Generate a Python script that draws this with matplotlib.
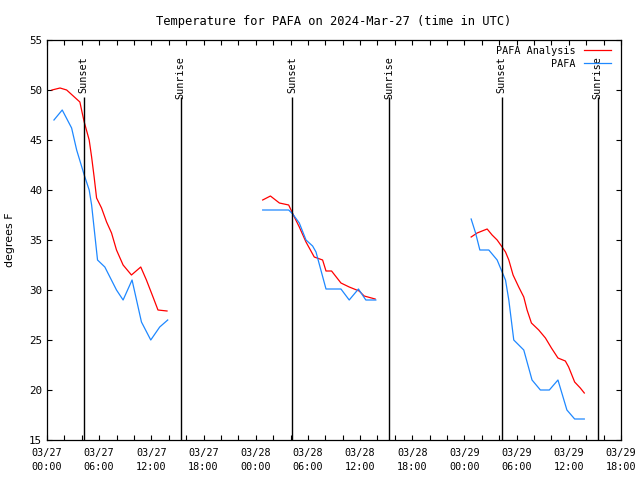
import pandas as pd
import matplotlib
matplotlib.use("Agg")
import matplotlib.pyplot as plt
import matplotlib.dates as mdates

plt.rcParams['font.family'] = ['DejaVu Sans Mono']
plt.rcParams['font.size'] = 7.3

base = pd.Timestamp("2024-03-27 00:00")

# hours since 03/27 00:00 UTC, one list per day segment
anl_hours = [
    [0.57, 1.5, 2.26, 3.78, 4.05, 4.28, 4.85, 5.13, 5.42, 5.7, 6.27, 6.85, 7.42,
     7.99, 8.75, 9.71, 10.78, 11.43, 12.19, 12.76, 13.8],
    [24.8, 25.69, 26.72, 27.79, 28.06, 28.44, 29.01, 29.78, 30.73, 31.69, 32.08,
     32.72, 33.8, 34.75, 35.89, 36.47, 37.73],
    [48.77, 49.46, 50.03, 50.61, 51.18, 51.76, 52.33, 52.72, 53.1, 53.59, 54.24,
     54.82, 55.2, 55.7, 56.54, 57.31, 58.0, 58.75, 59.6, 59.98, 60.67, 61.32, 61.78],
]
anl_temps = [
    [50.0, 50.2, 50.0, 48.8, 47.7, 46.8, 45.0, 43.3, 41.3, 39.2, 38.2, 36.8, 35.7,
     34.0, 32.5, 31.5, 32.3, 31.0, 29.3, 28.0, 27.9],
    [39.0, 39.4, 38.7, 38.5, 38.0, 37.3, 36.3, 34.8, 33.3, 33.0, 31.9, 31.9, 30.7,
     30.3, 29.9, 29.4, 29.1],
    [35.3, 35.7, 35.9, 36.1, 35.5, 35.0, 34.3, 33.8, 33.0, 31.5, 30.3, 29.3, 28.0,
     26.7, 26.0, 25.2, 24.2, 23.2, 22.9, 22.3, 20.8, 20.2, 19.7],
]

obs_hours = [
    [0.8, 1.75, 2.83, 3.41, 4.28, 4.85, 5.13, 5.81, 6.65, 7.99, 8.75, 9.78, 10.86,
     11.93, 12.96, 13.88],
    [24.8, 27.79, 28.25, 29.01, 29.78, 30.54, 30.93, 32.08, 33.8, 34.75, 35.81,
     36.66, 37.81],
    [48.77, 49.28, 49.77, 50.8, 51.76, 52.33, 52.72, 53.1, 53.67, 54.82, 55.77,
     56.73, 57.76, 58.75, 59.78, 60.67, 61.78],
]
obs_temps = [
    [47, 48, 46.2, 44, 41.5, 40, 38.5, 33, 32.3, 30, 29, 31, 26.8, 25, 26.3, 27],
    [38, 38, 37.6, 36.7, 35, 34.4, 33.8, 30.1, 30.1, 29, 30.1, 29, 29],
    [37.1, 35.7, 34, 34, 33, 31.8, 31, 29, 25, 24, 21, 20, 20, 21, 18, 17.1, 17.1],
]

sunset = ["2024-03-27 04:13", "2024-03-28 04:13", "2024-03-29 04:17"]
sunrise = ["2024-03-27 15:22", "2024-03-28 15:20", "2024-03-29 15:18"]


def to_time(hours):
    return base + pd.to_timedelta(hours, unit="h")


fig = plt.figure(figsize=(6.4, 4.8), dpi=100)
ax = fig.add_axes([47 / 640, 40 / 480, 574 / 640, 400 / 480])

for i in range(3):
    ax.plot(to_time(anl_hours[i]), anl_temps[i], color="#ff0000", lw=0.9,
            label="PAFA Analysis" if i == 0 else None)
for i in range(3):
    ax.plot(to_time(obs_hours[i]), obs_temps[i], color="#1e88ff", lw=0.9,
            label="PAFA" if i == 0 else None)

for t in sunset:
    ax.vlines(pd.Timestamp(t), 15, 49.3, color="black", lw=1)
    ax.text(pd.Timestamp(t), 53.4, "Sunset", rotation=90, ha="center", va="top")
for t in sunrise:
    ax.vlines(pd.Timestamp(t), 15, 49.3, color="black", lw=1)
    ax.text(pd.Timestamp(t), 53.4, "Sunrise", rotation=90, ha="center", va="top")

ax.set_xlim(pd.Timestamp("2024-03-27 00:00"), pd.Timestamp("2024-03-29 18:00"))
ax.set_ylim(15, 55)
ax.set_yticks(range(15, 56, 5))
ax.xaxis.set_major_locator(mdates.HourLocator(byhour=[0, 6, 12, 18]))
ax.xaxis.set_minor_locator(mdates.HourLocator(interval=2))
ax.xaxis.set_major_formatter(mdates.DateFormatter("%m/%d\n%H:%M"))
ax.tick_params(which="both", direction="in", top=True, right=True, length=3.5,
               width=0.8)
ax.tick_params(axis="x", pad=6)
ax.tick_params(axis="y", labelsize=7.8)
for lab in ax.get_xticklabels():
    lab.set_linespacing(1.45)
for s in ax.spines.values():
    s.set_linewidth(0.9)

ax.set_ylabel("degrees F", family="DejaVu Sans", fontsize=7.9, labelpad=10)
ax.set_title("Temperature for PAFA on 2024-Mar-27 (time in UTC)", pad=11)

ax.legend(loc="upper right", bbox_to_anchor=(0.983, 0.985), frameon=False,
          markerfirst=False, handlelength=2.7, handletextpad=0.8,
          labelspacing=0.25, borderaxespad=0, borderpad=0)

fig.savefig("out.png", dpi=100)
